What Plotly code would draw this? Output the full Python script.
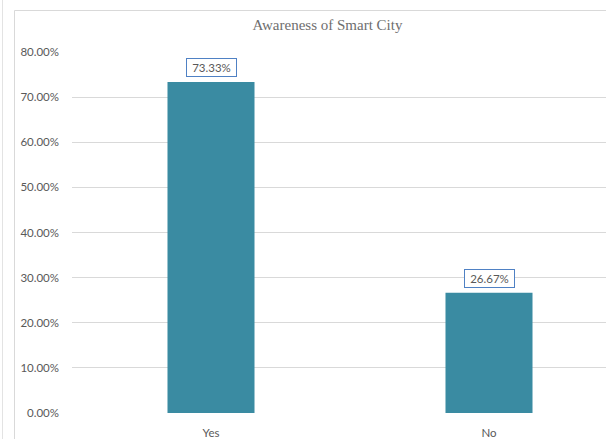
import plotly.graph_objects as go

categories = ["Yes", "No"]
values = [73.33, 26.67]
y_ticks = [0, 10, 20, 30, 40, 50, 60, 70, 80]
y_tick_labels = [f"{v:.2f}%" for v in y_ticks]

bar_color = "#3A8BA2"
text_color = "#595959"
grid_color = "#D9D9D9"

W, H = 606, 439
L, R, T, B = 72, 0, 52, 26
plot_w = W - L - R
plot_h = H - T - B

fig = go.Figure(
    go.Bar(
        x=[0, 1],
        y=values,
        width=0.313,
        marker=dict(color=bar_color, line=dict(width=0)),
        hoverinfo="skip",
    )
)

# value labels in boxes above each bar
for i, v in enumerate(values):
    fig.add_annotation(
        x=i, y=v, xref="x", yref="y",
        text=f"{v:.2f}%",
        showarrow=False,
        yanchor="bottom",
        yshift=5,
        width=45,
        font=dict(family="Lato", size=11.5, color=text_color),
        bordercolor="#4F81C4",
        borderwidth=1,
        borderpad=2,
        bgcolor="white",
    )

# chart frame lines
def px_x(p):
    return (p - L) / plot_w

def px_y(p):
    return (H - B - p) / plot_h

fig.add_shape(type="rect", xref="paper", yref="paper",
              x0=px_x(14.5), x1=px_x(700), y0=px_y(10.5), y1=px_y(500),
              line=dict(color="#D9D9D9", width=1), fillcolor="rgba(0,0,0,0)", layer="below")
fig.add_shape(type="line", xref="paper", yref="paper",
              x0=px_x(2.5), x1=px_x(2.5), y0=px_y(0), y1=px_y(500),
              line=dict(color="#E3E3E3", width=1))

fig.update_layout(
    width=W, height=H,
    margin=dict(l=L, r=R, t=T, b=B, pad=0),
    paper_bgcolor="white",
    plot_bgcolor="white",
    showlegend=False,
    title=dict(
        text="Awareness of Smart City",
        x=px_x(327.5), xanchor="center", xref="paper",
        y=1 - 25 / H, yanchor="middle",
        font=dict(family="Liberation Serif", size=15, color="#6E6E6E"),
    ),
    xaxis=dict(
        tickmode="array", tickvals=[0, 1], ticktext=categories,
        range=[-0.5, -0.5 + plot_w / 278],
        showgrid=False, zeroline=False, showline=False,
        ticks="", ticklabelstandoff=11,
        tickfont=dict(family="Lato", size=11.5, color=text_color),
        fixedrange=True,
    ),
    yaxis=dict(
        range=[0, 80], tickmode="array", tickvals=y_ticks, ticktext=y_tick_labels,
        showgrid=True, gridcolor=grid_color, gridwidth=1,
        zeroline=False, showline=False, ticks="", ticklabelstandoff=12,
        tickfont=dict(family="Lato", size=11.5, color=text_color),
        fixedrange=True,
    ),
)

fig.write_html("out.html")
